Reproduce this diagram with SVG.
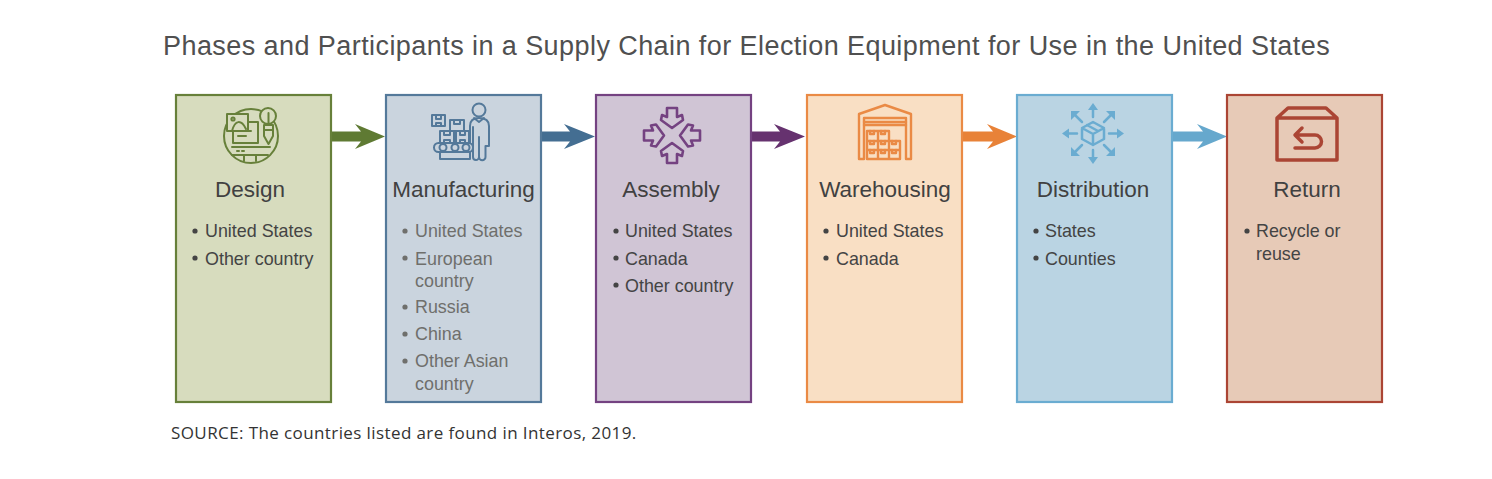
<svg xmlns="http://www.w3.org/2000/svg" width="1492" height="479" viewBox="0 0 1492 479">
<style>
text{font-family:"Liberation Sans",Arial,sans-serif}
.title{font-size:27px;fill:#505050;letter-spacing:.43px}
.h{font-size:22.5px;fill:#414141;text-anchor:middle}
.b{font-size:17.9px;fill:#444}
.g{fill:#6f6f6c}
.d{fill:#444}
.src{font-family:"Open Sans","Liberation Sans",sans-serif;font-size:17px;fill:#333;letter-spacing:.4px}
.box{stroke-width:2.2}
.i{fill:none;stroke-width:2;stroke-linejoin:round;stroke-linecap:round}
</style>
<rect width="1492" height="479" fill="#fff"/>
<text class="title" x="163" y="54.500">Phases and Participants in a Supply Chain for Election Equipment for Use in the United States</text>
<g id="connectors">
<path fill="#5f7a33" d="M331 131.500H361L355 124 385 136.500 355 149 361 141.500H331z"/>
<path fill="#446e92" d="M541 131.500H570L564 124 595 136.500 564 149 570 141.500H541z"/>
<path fill="#66326f" d="M751 131.500H780L774 124 805 136.500 774 149 780 141.500H751z"/>
<path fill="#e88238" d="M961 131.500H993L987 124 1017 136.500 987 149 993 141.500H961z"/>
<path fill="#66a8cd" d="M1172 131.500H1203L1197 124 1227 136.500 1197 149 1203 141.500H1172z"/>
</g>
<g id="design">
<rect class="box" x="176" y="95" width="155" height="307" fill="#d7dcbe" stroke="#67803a"/>
<g class="i" stroke="#67803a">
<circle cx="251" cy="136" r="27"/>
<rect x="233" y="122" width="25" height="21" fill="#d7dcbe"/>
<path d="M238 131h13M238 136h8M232 147h38M237 151h2M242 151h2M232 155h36M244 155v6M256 155v6"/>
<rect x="227" y="114" width="21" height="17" fill="#d7dcbe"/>
<path d="M232 131c3-11 9-12 14-2"/><circle cx="233" cy="119" r="1.600"/>
<circle cx="268" cy="116" r="8" fill="#d7dcbe"/>
<path d="M264 125h9v11l-4.500 8-4.500-8zM268.500 113v12M264 130h9" fill="#d7dcbe"/>
</g>
<text class="h" x="250" y="197">Design</text>
<circle cx="195" cy="231" r="2.600" class="d"/><text class="b" x="205" y="237">United States</text>
<circle cx="195" cy="258" r="2.600" class="d"/><text class="b" x="205" y="264.500">Other country</text>
</g>
<g id="manufacturing">
<rect class="box" x="386" y="95" width="155" height="307" fill="#cad4de" stroke="#54799a"/>
<g class="i" stroke="#54799a">
<rect x="432" y="115" width="13" height="11"/><path d="M436 115v4h5v-4M436 126v-3h5v3"/>
<rect x="450" y="120" width="14" height="11"/><path d="M454 120v4h6v-4"/>
<rect x="440" y="131" width="14" height="12"/><rect x="456" y="131" width="13" height="12"/><path d="M444 131v4h6v-4M460 131v4h5v-4M444 143v-3h6v3M460 143v-3h5v3"/>
<rect x="434" y="143" width="39" height="9" rx="4.500"/>
<circle cx="443" cy="147.500" r="3.500"/><circle cx="455" cy="147.500" r="3.500"/><circle cx="466" cy="147.500" r="3.500"/>
<path d="M440 152v7h30v-7"/>
<circle cx="479" cy="110" r="6.500"/>
<path d="M470 143v-17c0-6 4-8 9-8s10 2 10 8v20h-3.500v11a2.700 2.700 0 0 1-6.500 0 2.700 2.700 0 0 1-6 0v-30"/>
<path d="M479 137v20M474 118l5 4 5-4"/>
</g>
<text class="h" x="463.500" y="197">Manufacturing</text>
<g class="g">
<circle cx="405" cy="231" r="2.600"/><circle cx="405" cy="258" r="2.600"/><circle cx="405" cy="307" r="2.600"/><circle cx="405" cy="334" r="2.600"/><circle cx="405" cy="361" r="2.600"/>
</g>
<text class="b g" x="415" y="237">United States</text>
<text class="b g" x="415" y="264.500">European</text>
<text class="b g" x="415" y="287">country</text>
<text class="b g" x="415" y="313">Russia</text>
<text class="b g" x="415" y="340">China</text>
<text class="b g" x="415" y="367">Other Asian</text>
<text class="b g" x="415" y="390">country</text>
</g>
<g id="assembly">
<rect class="box" x="596" y="95" width="155" height="307" fill="#d0c5d5" stroke="#744281"/>
<g class="i" stroke="#744281" style="stroke-width:2.600">
<path d="M667 108h10v9l5-2 1 5-11 8-11-8 1-5 5 2z"/>
<path d="M667 163h10v-9l5 2 1-5-11-8-11 8 1 5 5-2z"/>
<path d="M644 130.500v10h9l-2 5 5 1 8-11-8-11-5 1 2 5z"/>
<path d="M700 130.500v10h-9l2 5-5 1-8-11 8-11 5 1-2 5z"/>
</g>
<text class="h" x="671" y="197">Assembly</text>
<circle cx="616" cy="231" r="2.600" class="d"/><text class="b" x="625" y="237">United States</text>
<circle cx="616" cy="258" r="2.600" class="d"/><text class="b" x="625" y="264.500">Canada</text>
<circle cx="616" cy="285" r="2.600" class="d"/><text class="b" x="625" y="291.500">Other country</text>
</g>
<g id="warehousing">
<rect class="box" x="807" y="95" width="155" height="307" fill="#f9dfc4" stroke="#ea8a45"/>
<g class="i" stroke="#ea8a45" style="stroke-width:2.400">
<path d="M859 114l26-9 26 9v45h-5v-41h-42v41h-5z"/>
<path d="M864 122h42M864 125h42"/>
<path d="M867 131h22v28h-22zM878 131v28M867 141h33v18h-11M889 141v18M867 150h33"/>
<path d="M870 131v3h4v-3M881 131v3h4v-3M870 141v3h4v-3M881 141v3h4v-3M892 141v3h4v-3M870 150v3h4v-3M881 150v3h4v-3M892 150v3h4v-3"/>
</g>
<text class="h" x="885" y="197">Warehousing</text>
<circle cx="826" cy="231" r="2.600" class="d"/><text class="b" x="836" y="237">United States</text>
<circle cx="826" cy="258" r="2.600" class="d"/><text class="b" x="836" y="264.500">Canada</text>
</g>
<g id="distribution">
<rect class="box" x="1017" y="95" width="155" height="307" fill="#bad4e3" stroke="#6aacd1"/>
<g class="i" stroke="#6aacd1" style="stroke-width:2.500">
<path d="M1093 122l11 6v11l-11 6-11-6v-11zM1082 128l11 6 11-6M1093 134v11M1087 125l11 6"/>
<path d="M1093 117v-9M1093 150v9M1077 133.500h-9M1109 133.500h9M1082 122l-7-7M1104 122l7-7M1082 145l-7 7M1104 145l7 7"/>
</g>
<g fill="#6aacd1"><path d="M1093 103l5 7h-10zM1093 164l5-7h-10zM1062 133.500l7-5v10zM1124 133.500l-7-5v10zM1071 111h9l-9 9zM1115 111h-9l9 9zM1071 156h9l-9-9zM1115 156h-9l9-9z"/></g>
<text class="h" x="1093" y="197">Distribution</text>
<circle cx="1036" cy="231" r="2.600" class="d"/><text class="b" x="1045" y="237">States</text>
<circle cx="1036" cy="258" r="2.600" class="d"/><text class="b" x="1045" y="264.500">Counties</text>
</g>
<g id="return">
<rect class="box" x="1227" y="95" width="155" height="307" fill="#e7cab7" stroke="#ab4534"/>
<g class="i" stroke="#ab4534" style="stroke-width:3.500">
<path d="M1277 118v42h60v-42zM1277 118l11-10h38l11 10"/>
<path d="M1302 128l-7 7 7 7M1296 135h19a6.500 6.500 0 0 1 0 13h-20"/>
</g>
<text class="h" x="1307" y="197">Return</text>
<circle cx="1247" cy="231" r="2.600" class="d"/><text class="b" x="1256" y="237">Recycle or</text>
<text class="b" x="1256" y="260">reuse</text>
</g>
<text class="src" x="171" y="439">SOURCE: The countries listed are found in Interos, 2019.</text>
</svg>
